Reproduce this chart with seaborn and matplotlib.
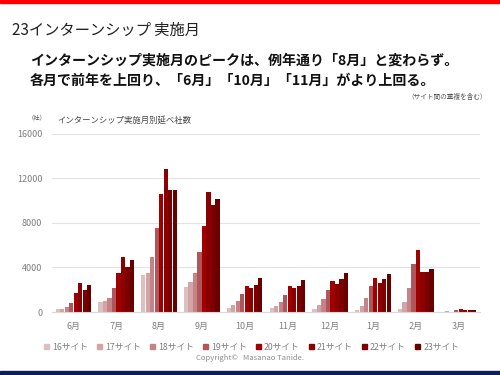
import matplotlib
matplotlib.use('Agg')

import matplotlib.pyplot as plt
import matplotlib.patches as mpatches
import pandas as pd
import seaborn as sns

# Data (companies per month, by recruiting site year)
months = ["6月", "7月", "8月", "9月", "10月", "11月", "12月", "1月", "2月", "3月"]
sites = ["16サイト", "17サイト", "18サイト", "19サイト", "20サイト", "21サイト", "22サイト", "23サイト"]

s16 = [250, 870, 3280, 2210, 390, 330, 270, 180, 240, 0]
s17 = [300, 960, 3520, 2660, 600, 510, 600, 510, 930, 50]
s18 = [450, 1220, 4930, 3460, 960, 930, 1170, 1290, 2130, 0]
s19 = [840, 2180, 7550, 5400, 1590, 1530, 2010, 2310, 4350, 200]
s20 = [1670, 3460, 10570, 7760, 2380, 2340, 2790, 3090, 5550, 250]
s21 = [2570, 4900, 12810, 10780, 2130, 2190, 2490, 2580, 3570, 180]
s22 = [1940, 4000, 10930, 9640, 2400, 2340, 3000, 2940, 3570, 200]
s23 = [2450, 4630, 10990, 10120, 3030, 2910, 3510, 3420, 3840, 170]

colors = ["#DCBFC1", "#D3A3A5", "#C48487", "#B0565A", "#A00000", "#8B0000", "#7C0000", "#680000"]

# Long-form table for seaborn
series = [s16, s17, s18, s19, s20, s21, s22, s23]
rows = []
for site, vals in zip(sites, series):
    for m, v in zip(months, vals):
        rows.append({"month": m, "site": site, "count": v})
df = pd.DataFrame(rows)

sns.set_style("white")
plt.rcParams['font.family'] = ['Noto Sans CJK JP', 'DejaVu Sans']

fig = plt.figure(figsize=(5, 3.75), dpi=100)
ax = fig.add_axes([0.104, 0.168, 0.856, 0.475])

sns.barplot(data=df, x="month", y="count", hue="site", order=months, hue_order=sites,
            palette=colors, width=0.84, gap=0.05, saturation=1, ax=ax, legend=False,
            errorbar=None, linewidth=0)

ax.set_ylim(0, 16000)
ax.set_yticks(range(0, 16001, 4000))
ax.set_xlim(-0.5, len(months) - 0.5)
ax.yaxis.grid(True, color="#E2E2E2", linewidth=0.8)
ax.set_axisbelow(True)
for side in ["top", "right", "left"]:
    ax.spines[side].set_visible(False)
ax.spines["bottom"].set_color("#D8D8D8")
ax.tick_params(axis="both", length=0, labelsize=6.5, colors="#7F7F7F", pad=7)
ax.set_xlabel("")
ax.set_ylabel("")

# Legend under the plot
handles = [mpatches.Patch(color=c, label=s) for c, s in zip(colors, sites)]
fig.legend(handles=handles, loc="center", bbox_to_anchor=(0.503, 0.075), ncol=8,
           frameon=False, fontsize=6.3, handlelength=0.6, handleheight=0.6,
           handletextpad=0.3, columnspacing=1.05, labelcolor="#7F7F7F")

# Header text
fig.text(0.024, 0.918, "23インターンシップ 実施月", fontsize=11, color="#222222", va="center")
fig.text(0.06, 0.838, "インターンシップ実施月のピークは、例年通り「8月」と変わらず。",
         fontsize=10.1, fontweight="bold", color="#111111", va="center")
fig.text(0.06, 0.785, "各月で前年を上回り、「6月」「10月」「11月」がより上回る。",
         fontsize=10.1, fontweight="bold", color="#111111", va="center")
fig.text(0.974, 0.741, "（サイト間の重複を含む）", fontsize=4.8, color="#555555",
         ha="right", va="center")
fig.text(0.056, 0.686, "（社）", fontsize=4.5, color="#555555", va="center")
fig.text(0.115, 0.68, "インターンシップ実施月別延べ社数", fontsize=6, color="#444444", va="center")
fig.text(0.5, 0.045, "Copyright©   Masanao Tanide.", fontsize=5.5, color="#8C8C8C",
         ha="center", va="center")

# Top red rule and bottom navy band
fig.patches.append(mpatches.Rectangle((0, 0.992), 1, 0.008, transform=fig.transFigure,
                                      color="#FF0000", zorder=5))
fig.patches.append(mpatches.Rectangle((0, 0), 1, 0.011, transform=fig.transFigure,
                                      color="#0B1F5B", zorder=5))

fig.savefig("out.png", dpi=100)
